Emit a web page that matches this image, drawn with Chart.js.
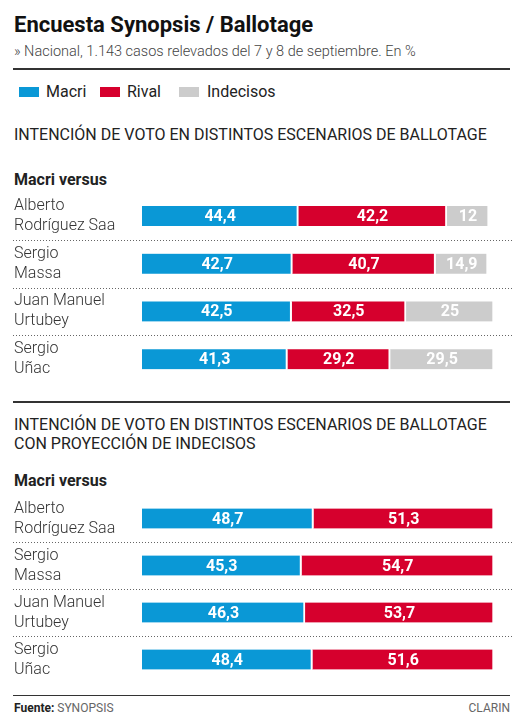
<!DOCTYPE html>
<html>
<head>
<meta charset="utf-8">
<script src="https://cdn.jsdelivr.net/npm/chart.js@4"></script>
<style>
  body { margin: 0; background: #fff; font-family: Roboto, 'Noto Sans', sans-serif; color: #222; }
  #page { position: relative; width: 532px; height: 721px; overflow: hidden; }
  .abs { position: absolute; white-space: nowrap; }
  .rule { position: absolute; left: 13px; width: 497px; background: #333; }
  .sw { position: absolute; width: 20px; height: 10px; }
  canvas { position: absolute; left: 0; }
</style>
</head>
<body>
<div id="page">
  <div class="abs" style="left:14px; top:12px; font-size:22px; font-weight:700; color:#111;">Encuesta Synopsis / Ballotage</div>
  <div class="abs" style="left:14px; top:43px; font-size:14.5px; font-weight:300; color:#444;">» Nacional, 1.143 casos relevados del 7 y 8 de septiembre. En %</div>
  <div class="rule" style="top:68px; height:2px;"></div>

  <div class="sw" style="left:19px; top:87px; background:#0a98d6;"></div>
  <div class="abs" style="left:46px; top:82px; font-size:16px;">Macri</div>
  <div class="sw" style="left:100px; top:87px; background:#d6002d;"></div>
  <div class="abs" style="left:127px; top:82px; font-size:16px;">Rival</div>
  <div class="sw" style="left:179px; top:87px; background:#cccccc;"></div>
  <div class="abs" style="left:207px; top:82px; font-size:16px;">Indecisos</div>

  <div class="abs" style="left:14px; top:125px; font-size:16px;">INTENCIÓN DE VOTO EN DISTINTOS ESCENARIOS DE BALLOTAGE</div>
  <div class="abs" style="left:14px; top:170px; font-size:16px; font-weight:700;">Macri versus</div>
  <canvas id="chart1" width="532" height="191" style="top:192px;"></canvas>

  <div class="rule" style="top:401px; height:2px;"></div>
  <div class="abs" style="left:14px; top:415px; font-size:16px; line-height:19px;">INTENCIÓN DE VOTO EN DISTINTOS ESCENARIOS DE BALLOTAGE<br>CON PROYECCIÓN DE INDECISOS</div>
  <div class="abs" style="left:14px; top:471px; font-size:16px; font-weight:700;">Macri versus</div>
  <canvas id="chart2" width="532" height="188" style="top:495px;"></canvas>

  <div class="rule" style="top:695px; height:1px;"></div>
  <div class="abs" style="left:14px; top:701px; font-size:12px; color:#666;"><b style="color:#222;">Fuente:</b> SYNOPSIS</div>
  <div class="abs" style="right:22px; top:701px; font-size:12px; color:#666;">CLARIN</div>
</div>

<script>
// ---- data ----
const candidates = [['Alberto', 'Rodríguez Saa'], ['Sergio', 'Massa'], ['Juan Manuel', 'Urtubey'], ['Sergio', 'Uñac']];

const macri1 = [44.4, 42.7, 42.5, 41.3];
const rival1 = [42.2, 40.7, 32.5, 29.2];
const indecisos1 = [12, 14.9, 25, 29.5];

const macri2 = [48.7, 45.3, 46.3, 48.4];
const rival2 = [51.3, 54.7, 53.7, 51.6];

const BLUE = '#0a98d6', RED = '#d6002d', GREY = '#cccccc';

// value labels inside the bars
const barLabels = {
  id: 'barLabels',
  afterDatasetsDraw(chart) {
    const ctx = chart.ctx;
    ctx.save();
    ctx.font = 'bold 16px Roboto, sans-serif';
    ctx.fillStyle = '#fff';
    ctx.textAlign = 'center';
    ctx.textBaseline = 'middle';
    chart.data.datasets.forEach((ds, i) => {
      chart.getDatasetMeta(i).data.forEach((bar, j) => {
        const p = bar.getProps(['x', 'base', 'y'], true);
        ctx.fillText(String(ds.data[j]).replace('.', ','), (p.x + p.base) / 2, p.y + 1);
      });
    });
    ctx.restore();
  }
};

// dotted separators between rows
const separators = {
  id: 'separators',
  beforeDatasetsDraw(chart) {
    const ctx = chart.ctx;
    const sy = chart.scales.y;
    ctx.save();
    ctx.strokeStyle = '#666';
    ctx.lineWidth = 1;
    ctx.setLineDash([1, 2]);
    for (let j = 0; j < chart.data.labels.length - 1; j++) {
      const y = Math.round((sy.getPixelForValue(j) + sy.getPixelForValue(j + 1)) / 2) + 0.5;
      ctx.beginPath();
      ctx.moveTo(13, y);
      ctx.lineTo(513, y);
      ctx.stroke();
    }
    ctx.restore();
  }
};

function makeChart(id, datasets) {
  return new Chart(document.getElementById(id), {
    type: 'bar',
    data: {
      labels: candidates,
      datasets: datasets.map(d => ({
        label: d.label,
        data: d.data,
        backgroundColor: d.color,
        borderColor: '#fff',
        borderWidth: { left: 0, right: 2, top: 0, bottom: 0 },
        borderSkipped: false,
        barThickness: 20
      }))
    },
    options: {
      indexAxis: 'y',
      responsive: false,
      animation: false,
      layout: { padding: { left: 14, right: 38, top: 0, bottom: 0 } },
      plugins: { legend: { display: false }, tooltip: { enabled: false } },
      scales: {
        x: { stacked: true, display: false, min: 0, max: 100 },
        y: {
          stacked: true,
          grid: { display: false },
          border: { display: false },
          ticks: {
            crossAlign: 'far',
            color: '#333',
            font: { family: 'Roboto, sans-serif', size: 16, weight: 300, lineHeight: 1.25 }
          },
          afterFit(scale) {
            // the rows already leave room for the two-line labels
            scale.width = 128;
            scale.paddingTop = 0;
            scale.paddingBottom = 0;
          }
        }
      }
    },
    plugins: [separators, barLabels]
  });
}

makeChart('chart1', [
  { label: 'Macri', data: macri1, color: BLUE },
  { label: 'Rival', data: rival1, color: RED },
  { label: 'Indecisos', data: indecisos1, color: GREY }
]);

makeChart('chart2', [
  { label: 'Macri', data: macri2, color: BLUE },
  { label: 'Rival', data: rival2, color: RED }
]);
</script>
</body>
</html>
